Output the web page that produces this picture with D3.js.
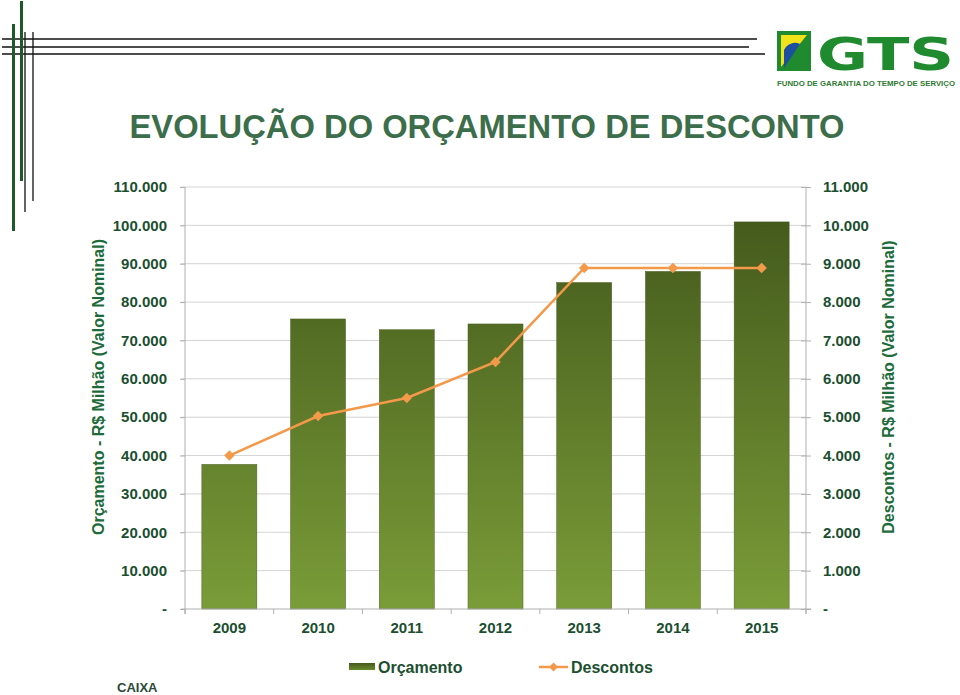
<!DOCTYPE html>
<html><head><meta charset="utf-8">
<script src="https://cdn.jsdelivr.net/npm/d3@7"></script>
<style>body{margin:0;background:#fff}svg{display:block;font-family:"Liberation Sans",Arial,sans-serif}</style>
</head><body><svg id="c" width="960" height="695"></svg>
<script>
const years = ["2009","2010","2011","2012","2013","2014","2015"];
const orcamento = [37700, 75600, 72800, 74300, 85100, 88000, 100900];
const descontos = [4000, 5030, 5500, 6440, 8890, 8890, 8890];
const leftTicks = [0,10000,20000,30000,40000,50000,60000,70000,80000,90000,100000,110000];
const rightTicks = [0,1000,2000,3000,4000,5000,6000,7000,8000,9000,10000,11000];

const svg = d3.select("#c");
const L = 185, R = 806, T = 187, B = 609;
const x = d3.scaleBand().domain(years).range([L, R]).paddingInner(0.38).paddingOuter(0.19);
const yL = d3.scaleLinear().domain([0, 110000]).range([B, T]);
const yR = d3.scaleLinear().domain([0, 11000]).range([B, T]);
const fmt = v => v === 0 ? "-" : d3.format(",")(v).replace(/,/g, ".");

// decoration lines
const deco = svg.append("g");
[[39,757],[47,749],[54,765]].forEach(([y,x2]) => deco.append("line").attr("x1",2).attr("x2",x2).attr("y1",y).attr("y2",y).attr("stroke","#111").attr("stroke-width",1.4));
deco.append("line").attr("x1",13.5).attr("x2",13.5).attr("y1",24).attr("y2",231).attr("stroke","#1d5a2a").attr("stroke-width",3);
deco.append("line").attr("x1",21.5).attr("x2",21.5).attr("y1",1).attr("y2",181).attr("stroke","#1d5a2a").attr("stroke-width",3);
deco.append("line").attr("x1",25).attr("x2",25).attr("y1",32).attr("y2",212).attr("stroke","#111").attr("stroke-width",1.3);
deco.append("line").attr("x1",33).attr("x2",33).attr("y1",32).attr("y2",201).attr("stroke","#111").attr("stroke-width",1.3);

// logo
const lg = svg.append("g");
lg.append("rect").attr("x",777).attr("y",31).attr("width",34).attr("height",40).attr("fill","#1f8a2e");
lg.append("path").attr("d","M781,35 L807,35 L781,67 Z").attr("fill","#f2e21a");
lg.append("path").attr("d","M784,68 L784,50 A12,12 0 0 1 800,44 Z").attr("fill","#1c4fa0");
lg.append("rect").attr("x",811).attr("y",48).attr("width",4).attr("height",23).attr("fill","#fff");
lg.append("text").attr("x",817).attr("y",70).attr("font-size",44).attr("font-weight","900").attr("fill","#1f8a2e").attr("textLength",137).attr("lengthAdjust","spacingAndGlyphs").attr("font-family","'DejaVu Sans',sans-serif").text("GTS");
lg.append("text").attr("x",777).attr("y",86).attr("font-size",7.5).attr("font-weight","bold").attr("fill","#2f7a32").attr("textLength",178).attr("lengthAdjust","spacingAndGlyphs").text("FUNDO DE GARANTIA DO TEMPO DE SERVIÇO");

// title
svg.append("text").attr("x",487).attr("y",138).attr("text-anchor","middle").attr("font-size",33).attr("font-weight","bold").attr("fill","#3c6e4b").attr("textLength",715).attr("lengthAdjust","spacingAndGlyphs").text("EVOLUÇÃO DO ORÇAMENTO DE DESCONTO");

// gridlines
svg.append("g").selectAll("line").data(leftTicks.filter(d=>d>0)).join("line")
  .attr("x1",L-4).attr("x2",R).attr("y1",d=>yL(d)).attr("y2",d=>yL(d)).attr("stroke","#d4d4d4").attr("stroke-width",1);

// gradient
const defs = svg.append("defs");
const gr = defs.append("linearGradient").attr("id","bg").attr("gradientUnits","userSpaceOnUse").attr("x1",0).attr("x2",0).attr("y1",T+30).attr("y2",B);
gr.append("stop").attr("offset","0").attr("stop-color","#445a1c");
gr.append("stop").attr("offset","1").attr("stop-color","#7a9c38");
const lgg = defs.append("linearGradient").attr("id","lgg").attr("x1",0).attr("x2",0).attr("y1",0).attr("y2",1);
lgg.append("stop").attr("offset","0").attr("stop-color","#445a1c");
lgg.append("stop").attr("offset","1").attr("stop-color","#6a8a30");

// bars
svg.append("g").selectAll("rect").data(years).join("rect")
  .attr("x",d=>x(d)).attr("width",x.bandwidth())
  .attr("y",(d,i)=>yL(orcamento[i])).attr("height",(d,i)=>B-yL(orcamento[i]))
  .attr("fill","url(#bg)").attr("stroke","#4a5e22").attr("stroke-width",0.5);

// axes
const axL = svg.append("g").attr("transform",`translate(${L},0)`).call(d3.axisLeft(yL).tickValues(leftTicks).tickFormat(fmt).tickSize(5).tickPadding(13));
const axR = svg.append("g").attr("transform",`translate(${R},0)`).call(d3.axisRight(yR).tickValues(rightTicks).tickFormat(fmt).tickSize(0).tickPadding(17));
axR.selectAll(".tick").append("line").attr("x1",-5).attr("x2",5).attr("stroke","#b0b0b0");
const axB = svg.append("g").attr("transform",`translate(0,${B})`).call(d3.axisBottom(x).tickSize(5).tickPadding(8));
axB.selectAll(".tick line").remove();
const edges = d3.range(years.length+1).map(i=>L + i*(R-L)/years.length);
axB.selectAll(".edge").data(edges).join("line").attr("class","edge").attr("x1",d=>d).attr("x2",d=>d).attr("y1",0).attr("y2",5).attr("stroke","#b0b0b0");
axB.select(".domain").attr("d",`M${L-4},0H${R+5}`);
[axL,axR,axB].forEach(a=>{
  a.select(".domain").attr("stroke","#b0b0b0");
  a.selectAll(".tick line").attr("stroke","#b0b0b0");
  a.selectAll("text").attr("font-size",15).attr("font-weight","bold").attr("fill","#1b4f30").attr("font-family","'Liberation Sans',Arial,sans-serif");
});
axL.select(".domain").attr("d",`M0,${T}V${B+5}`);
axR.select(".domain").attr("d",`M0,${T}V${B+5}`);

// line
const lineGen = d3.line().x((d,i)=>x(years[i])+x.bandwidth()/2).y(d=>yR(d));
svg.append("path").datum(descontos).attr("d",lineGen).attr("fill","none").attr("stroke","#f2994a").attr("stroke-width",2.5);
svg.append("g").selectAll("path").data(descontos).join("path")
  .attr("transform",(d,i)=>`translate(${x(years[i])+x.bandwidth()/2},${yR(d)})`)
  .attr("d",d3.symbol(d3.symbolDiamond2,70)).attr("fill","#f2994a");

// axis titles
svg.append("text").attr("transform","translate(104,387) rotate(-90)").attr("text-anchor","middle").attr("font-size",16).attr("font-weight","bold").attr("fill","#1d6b3a").text("Orçamento - R$ Milhão (Valor Nominal)");
svg.append("text").attr("transform","translate(894,387) rotate(-90)").attr("text-anchor","middle").attr("font-size",16).attr("font-weight","bold").attr("fill","#1d6b3a").text("Descontos - R$ Milhão (Valor Nominal)");

// legend
const lgd = svg.append("g");
lgd.append("rect").attr("x",349).attr("y",663).attr("width",26).attr("height",7).attr("fill","url(#lgg)");
lgd.append("text").attr("x",378).attr("y",673).attr("font-size",16).attr("font-weight","bold").attr("fill","#1b4f30").text("Orçamento");
lgd.append("line").attr("x1",539).attr("x2",568).attr("y1",667).attr("y2",667).attr("stroke","#f2994a").attr("stroke-width",2.5);
lgd.append("path").attr("transform","translate(553.5,667)").attr("d",d3.symbol(d3.symbolDiamond2,50)).attr("fill","#f2994a");
lgd.append("text").attr("x",571).attr("y",673).attr("font-size",16).attr("font-weight","bold").attr("fill","#1b4f30").text("Descontos");

svg.append("text").attr("x",117).attr("y",692).attr("font-size",13).attr("font-weight","bold").attr("fill","#2a4a3a").text("CAIXA");
</script></body></html>
